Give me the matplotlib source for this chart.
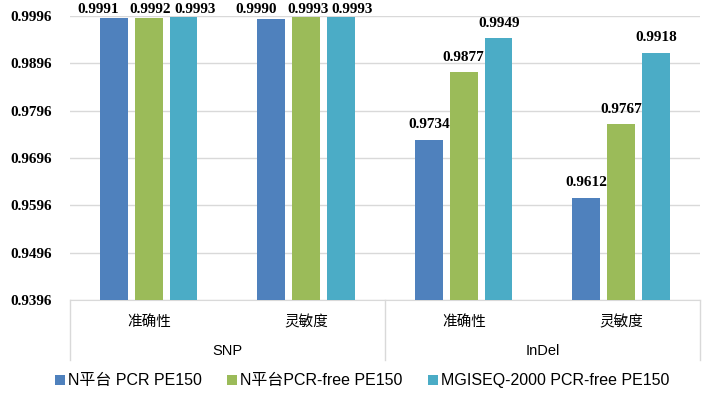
import numpy as np
import matplotlib.pyplot as plt

plt.rcParams['font.family'] = ['Liberation Sans', 'Noto Sans CJK SC']

groups = ['SNP', 'InDel']
metrics = ['准确性', '灵敏度', '准确性', '灵敏度']
series = ['N平台 PCR PE150', 'N平台PCR-free PE150', 'MGISEQ-2000 PCR-free PE150']
n_pcr = [0.9991, 0.9990, 0.9734, 0.9612]
n_free = [0.9992, 0.9993, 0.9877, 0.9767]
mgi_free = [0.9993, 0.9993, 0.9949, 0.9918]
colors = ['#4F81BD', '#9BBB59', '#4BACC6']
yticks = [0.9396, 0.9496, 0.9596, 0.9696, 0.9796, 0.9896, 0.9996]

fig = plt.figure(figsize=(7.2, 3.94), dpi=100)
ax = fig.add_axes([0.0972, 0.2386, 0.875, 0.7208])

x = np.arange(len(metrics))
w = 0.175
step = 0.222
serif = dict(family='Liberation Serif', fontweight='bold', fontsize=11)
# labels pushed against the top get spread sideways so they don't collide
spread = [-11, 1, 8]

for i, (vals, name) in enumerate(zip([n_pcr, n_free, mgi_free], series)):
    pos = x + (i - 1) * step
    ax.bar(pos, np.array(vals) - yticks[0], w, bottom=yticks[0], color=colors[i], label=name, zorder=3)
    for px, v in zip(pos, vals):
        ty = min(v + 0.0032, 1.0009)
        dx = spread[i] if ty < v + 0.0032 else 0
        ax.annotate(f'{v:.4f}', (px, ty), xytext=(dx, 0), textcoords='offset points',
                    ha='center', va='center', annotation_clip=False, **serif)

ax.set_xlim(-0.5, 3.5)
ax.set_ylim(yticks[0], yticks[-1])
ax.set_yticks(yticks)
ax.set_yticklabels([f'{t:.4f}' for t in yticks], **serif)
ax.tick_params(axis='y', length=0, pad=13)
ax.grid(axis='y', color='#D9D9D9', linewidth=1, zorder=0)
ax.set_xticks(x)
ax.set_xticklabels(metrics, fontsize=10.5, family=['Noto Sans CJK SC'])
ax.tick_params(axis='x', length=0, pad=11)
for s in ['left', 'right', 'top']:
    ax.spines[s].set_visible(False)
ax.spines['bottom'].set_color('#D9D9D9')

trans = ax.get_xaxis_transform()
for gi, g in enumerate(groups):
    ax.text(gi * 2 + 0.5, -0.18, g, transform=trans, ha='center', va='center', fontsize=10.5)
for xb in [-0.5, 1.5, 3.5]:
    ax.plot([xb, xb], [0, -0.21], transform=trans, color='#D9D9D9', linewidth=1, clip_on=False)

fig.legend(loc='center', bbox_to_anchor=(0.503, 0.033), ncol=3, frameon=False,
           fontsize=11.5, handlelength=0.6, handleheight=0.6, handletextpad=0.2,
           columnspacing=1.6)

fig.savefig('out.png', dpi=100)
